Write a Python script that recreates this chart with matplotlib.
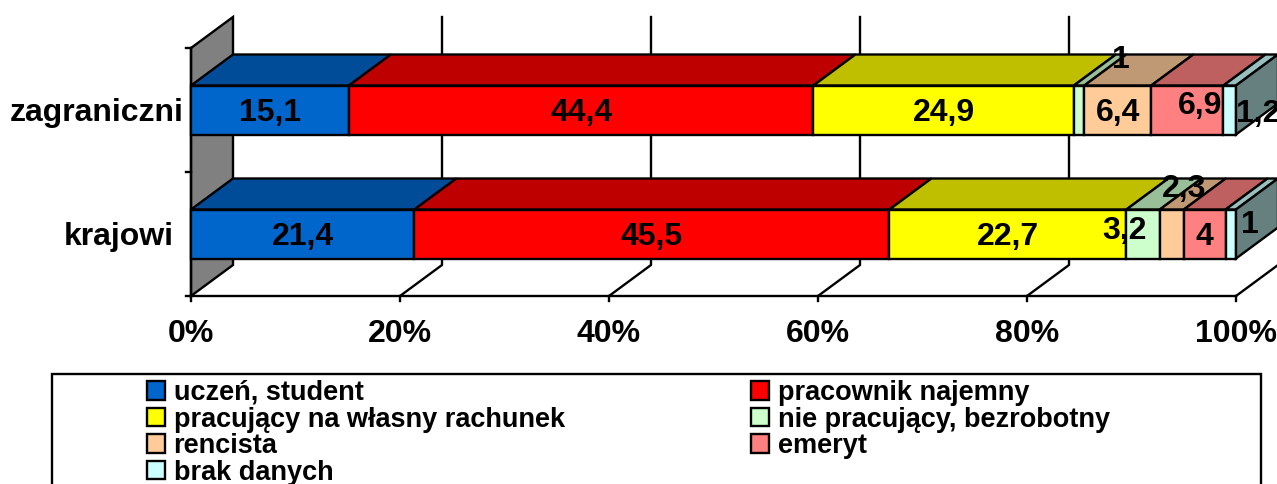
import matplotlib
matplotlib.use("Agg")
import matplotlib.pyplot as plt
from matplotlib.patches import Patch, Polygon, Rectangle

plt.rcParams["font.family"] = ["Liberation Sans", "DejaVu Sans"]
plt.rcParams["font.weight"] = "bold"

categories = ["krajowi", "zagraniczni"]
series = ["uczeń, student", "pracownik najemny", "pracujący na własny rachunek",
          "nie pracujący, bezrobotny", "rencista", "emeryt", "brak danych"]
krajowi = [21.4, 45.5, 22.7, 3.2, 2.3, 4, 1]
zagraniczni = [15.1, 44.4, 24.9, 1, 6.4, 6.9, 1.2]
krajowi_labels = ["21,4", "45,5", "22,7", "3,2", "2,3", "4", "1"]
zagraniczni_labels = ["15,1", "44,4", "24,9", "1", "6,4", "6,9", "1,2"]
xticks = [0, 20, 40, 60, 80, 100]

front = ["#0066CC", "#FF0000", "#FFFF00", "#CCFFCC", "#FFCC99", "#FF8080", "#CCFFFF"]
top = ["#004C99", "#BF0000", "#BFBF00", "#99BF99", "#BF9973", "#BF6060", "#99BFBF"]
side = "#667F7F"
wall = "#808080"

W, H = 1277, 484
PX_X = 10.45   # pixels per percent
PX_Y = 124.0   # pixels per category
X0, Y0 = 191, 296
DX, DY = 42 / PX_X, 31 / PX_Y   # 3d depth
BAR_H = 49 / PX_Y
LW = 1.7

# label nudges in pixels, same as the hand-moved labels in the source chart
nudges = {(0, 3): (-19, 6), (0, 4): (12, 48), (0, 6): (19, 12),
          (1, 3): (42, 53), (1, 5): (13, 7), (1, 6): (28, -1)}
TEXT_DROP = 3  # px, puts the digits on the bar centre

fig = plt.figure(figsize=(W / 100, H / 100), dpi=100)
ax = fig.add_axes([0, 0, 1, 1])
ax.set_xlim(-X0 / PX_X, (W - X0) / PX_X)
ax.set_ylim((Y0 - H) / PX_Y, Y0 / PX_Y)
ax.axis("off")

# back wall and floor lines
ax.add_patch(Polygon([(0, 0), (DX, DY), (DX, 2 + DY), (0, 2)], fc=wall, ec="black", lw=LW, zorder=1))
for t in xticks:
    ax.plot([t, t], [0, -5 / PX_Y], color="black", lw=LW, zorder=1)
    if t > 0:
        ax.plot([t, t + DX, t + DX], [0, DY, 2 + DY], color="black", lw=LW, zorder=1)
    ax.text(t, -38 / PX_Y, f"{t}%", ha="center", va="center", fontsize=23)
ax.plot([0, 100], [0, 0], color="black", lw=LW, zorder=1)
ax.plot([0, 0], [0, 2], color="black", lw=LW, zorder=2)
for y in [0, 1, 2]:
    ax.plot([-5 / PX_X, 0], [y, y], color="black", lw=LW, zorder=2)

for i, (vals, labels) in enumerate([(krajowi, krajowi_labels), (zagraniczni, zagraniczni_labels)]):
    total = sum(vals)
    yc = i + 0.5
    y0, y1 = yc - BAR_H / 2, yc + BAR_H / 2
    left = 0
    for j, v in enumerate(vals):
        w = v / total * 100
        ax.add_patch(Polygon([(left, y1), (left + DX, y1 + DY), (left + w + DX, y1 + DY), (left + w, y1)],
                             fc=top[j], ec="black", lw=LW, zorder=3))
        ax.add_patch(Rectangle((left, y0), w, BAR_H, fc=front[j], ec="black", lw=LW, zorder=4))
        left += w
    ax.add_patch(Polygon([(100, y0), (100 + DX, y0 + DY), (100 + DX, y1 + DY), (100, y1)],
                         fc=side, ec="black", lw=LW, zorder=4))
    left = 0
    for j, v in enumerate(vals):
        w = v / total * 100
        dx, dy = nudges.get((i, j), (0, 0))
        ax.annotate(labels[j], (left + w / 2, yc), xytext=(dx * 0.72, (dy - TEXT_DROP) * 0.72),
                    textcoords="offset points", ha="center", va="center", fontsize=23,
                    color="black", zorder=6)
        left += w

ax.text(-7 / PX_X, 1.5 - TEXT_DROP / PX_Y, categories[1], ha="right", va="center", fontsize=23)
ax.text(-17 / PX_X, 0.5 - TEXT_DROP / PX_Y, categories[0], ha="right", va="center", fontsize=23)

# legend frame runs off the bottom of the picture
fig.add_artist(Rectangle((52 / W, -0.05), (1261 - 52) / W, 0.05 + (H - 374) / H, fill=False,
                         ec="black", lw=LW, transform=fig.transFigure))
order = [0, 2, 4, 6, 1, 3, 5]
handles = [Patch(fc=front[k], ec="black", lw=LW, label=series[k]) for k in order]
leg = ax.legend(handles=handles, ncol=2, loc="upper left", frameon=False, fontsize=19.5,
                bbox_to_anchor=(147 / W, (H - 380) / H), bbox_transform=fig.transFigure,
                borderaxespad=0, borderpad=0, labelspacing=0.02, handlelength=0.66, handleheight=0.66,
                handletextpad=0.32, columnspacing=6.89)

fig.savefig("out.png", dpi=100)
